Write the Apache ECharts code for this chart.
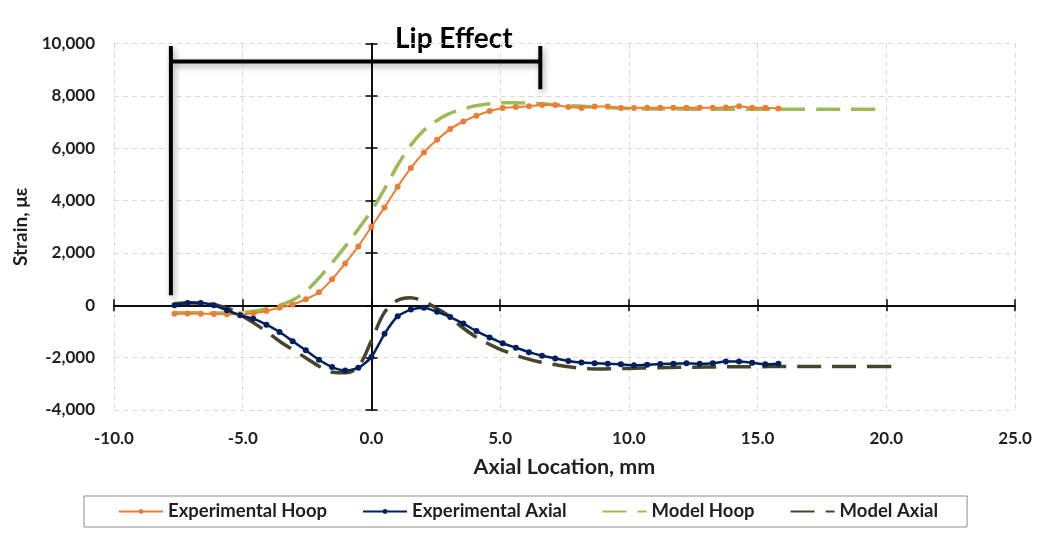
<!DOCTYPE html>
<html>
<head>
<meta charset="utf-8">
<script src="https://cdn.jsdelivr.net/npm/echarts@6/dist/echarts.min.js"></script>
<style>
  html, body { margin: 0; padding: 0; background: #fff; }
  #chart { width: 1045px; height: 538px; }
</style>
</head>
<body>
<div id="chart"></div>
<script>
// Axial positions (mm) of the gauge readings
const expX = [-7.65, -7.14, -6.63, -6.12, -5.61, -5.10, -4.59, -4.08, -3.57, -3.06,
  -2.55, -2.04, -1.53, -1.02, -0.51, 0.00, 0.51, 1.02, 1.53, 2.04,
  2.55, 3.06, 3.57, 4.08, 4.59, 5.10, 5.61, 6.12, 6.63, 7.14,
  7.65, 8.16, 8.67, 9.18, 9.69, 10.20, 10.71, 11.22, 11.73, 12.24,
  12.75, 13.26, 13.77, 14.28, 14.79, 15.30, 15.81];

const expHoop = [-320, -310, -320, -330, -340, -340, -300, -220, -90, 30,
  230, 500, 990, 1600, 2250, 3000, 3740, 4530, 5240, 5840,
  6320, 6730, 7020, 7240, 7420, 7540, 7570, 7600, 7650, 7650,
  7570, 7540, 7590, 7590, 7540, 7540, 7550, 7550, 7550, 7550,
  7550, 7550, 7560, 7600, 7550, 7550, 7520];

const expAxial = [0, 90, 90, 0, -190, -380, -510, -740, -1020, -1370,
  -1720, -2080, -2360, -2490, -2390, -1980, -1090, -420, -165, -90,
  -250, -450, -700, -985, -1230, -1450, -1620, -1790, -1930, -2030,
  -2130, -2190, -2210, -2235, -2255, -2290, -2270, -2240, -2235, -2210,
  -2235, -2210, -2150, -2145, -2195, -2255, -2235];

// Model predictions
const modelHoopX = [-7.65, -7.0, -6.5, -6.0, -5.5, -5.0, -4.5, -4.0, -3.5, -3.0,
  -2.5, -2.0, -1.5, -1.0, -0.5, 0.0, 0.5, 1.0, 1.5, 2.0,
  2.5, 3.0, 3.5, 4.0, 4.5, 5.0, 5.5, 6.0, 6.5, 7.0,
  7.5, 8.0, 8.5, 9.0, 9.5, 10.0, 11.0, 12.0, 13.0, 14.0,
  15.0, 16.0, 17.0, 18.0, 19.0, 20.0];
const modelHoop = [-280, -285, -290, -295, -295, -275, -220, -120, 20, 230,
  580, 1080, 1660, 2270, 2920, 3620, 4430, 5320, 6080, 6650,
  7030, 7310, 7480, 7610, 7690, 7730, 7740, 7730, 7710, 7670,
  7640, 7610, 7580, 7560, 7540, 7520, 7500, 7495, 7490, 7490,
  7490, 7490, 7490, 7490, 7490, 7490];

const modelAxialX = [-7.65, -7.0, -6.5, -6.0, -5.5, -5.0, -4.5, -4.0, -3.5, -3.0,
  -2.5, -2.0, -1.5, -1.0, -0.5, 0.0, 0.5, 1.0, 1.5, 2.0,
  2.5, 3.0, 3.5, 4.0, 4.5, 5.0, 5.5, 6.0, 6.5, 7.0,
  7.5, 8.0, 8.5, 9.0, 9.5, 10.0, 11.0, 12.0, 13.0, 14.0,
  15.0, 16.0, 17.0, 18.0, 19.0, 20.3];
const modelAxial = [60, 100, 70, 0, -150, -420, -720, -1060, -1420, -1730,
  -2040, -2350, -2560, -2580, -2330, -1350, -280, 180, 290, 170,
  -100, -400, -820, -1170, -1450, -1680, -1870, -2030, -2160, -2250,
  -2330, -2390, -2420, -2430, -2420, -2410, -2390, -2370, -2360, -2350,
  -2345, -2340, -2340, -2340, -2340, -2340];

// "Lip Effect" bracket (mm, με)
const lipStart = -7.79;
const lipEnd = 6.56;
const lipBar = 9310;
const lipTop = 9900;
const lipLeftFoot = 380;
const lipRightFoot = 8250;

const seriesNames = ['Experimental Hoop', 'Experimental Axial', 'Model Hoop', 'Model Axial'];
const seriesColors = ['#ED7D31', '#002060', '#9BBB59', '#494429'];

const FONT = 'Lato, "Open Sans", sans-serif';
const TEXT = '#1f1f1f';

const pair = (xs, ys) => xs.map((x, i) => [x, ys[i]]);

const baseX = { type: 'value', min: -10, max: 25, interval: 5, gridIndex: 0 };
const baseY = { type: 'value', min: -4000, max: 10000, interval: 2000, gridIndex: 0 };

const zeroLine = { onZero: true, onZeroAxisIndex: 0, lineStyle: { color: '#000', width: 1.5 } };

const chart = echarts.init(document.getElementById('chart'), null, { renderer: 'canvas' });

chart.setOption({
  backgroundColor: '#ffffff',
  animation: false,
  grid: { left: 114, right: 30, top: 43.5, bottom: 128, containLabel: false },
  xAxis: [
    Object.assign({}, baseX, {
      position: 'bottom',
      axisLine: { show: false, onZero: false },
      axisTick: { show: false },
      axisLabel: {
        margin: 20, fontFamily: FONT, fontSize: 17, fontWeight: 'bold', color: TEXT,
        formatter: v => v.toFixed(1)
      },
      splitLine: { show: true, lineStyle: { color: '#d9d9d9', width: 1, type: [5, 4] } },
      name: 'Axial Location, mm',
      nameLocation: 'middle',
      nameGap: 46,
      nameTextStyle: { fontFamily: FONT, fontSize: 21.5, fontWeight: 'bold', color: TEXT }
    }),
    Object.assign({}, baseX, {
      position: 'bottom',
      axisLine: zeroLine,
      axisTick: { show: true, length: 6, lineStyle: { color: '#000', width: 1.5 } },
      axisLabel: { show: false },
      splitLine: { show: false }
    }),
    Object.assign({}, baseX, {
      position: 'bottom',
      axisLine: zeroLine,
      axisTick: { show: true, inside: true, length: 6, lineStyle: { color: '#000', width: 1.5 } },
      axisLabel: { show: false },
      splitLine: { show: false }
    })
  ],
  yAxis: [
    Object.assign({}, baseY, {
      position: 'left',
      axisLine: { show: false, onZero: false },
      axisTick: { show: false },
      axisLabel: {
        margin: 19, fontFamily: FONT, fontSize: 17, fontWeight: 'bold', color: TEXT,
        formatter: v => v.toLocaleString('en-US')
      },
      splitLine: { show: true, lineStyle: { color: '#d9d9d9', width: 1, type: [5, 4] } },
      name: 'Strain, με',
      nameLocation: 'middle',
      nameGap: 83,
      nameRotate: 90,
      nameTextStyle: { fontFamily: FONT, fontSize: 19, fontWeight: 'bold', color: TEXT }
    }),
    Object.assign({}, baseY, {
      position: 'left',
      axisLine: zeroLine,
      axisTick: { show: true, length: 6, lineStyle: { color: '#000', width: 1.5 } },
      axisLabel: { show: false },
      splitLine: { show: false }
    }),
    Object.assign({}, baseY, {
      position: 'left',
      axisLine: zeroLine,
      axisTick: { show: true, inside: true, length: 6, lineStyle: { color: '#000', width: 1.5 } },
      axisLabel: { show: false },
      splitLine: { show: false }
    })
  ],
  legend: {
    data: [
      { name: seriesNames[0] },
      { name: seriesNames[1] },
      { name: seriesNames[2], itemStyle: { opacity: 0 } },
      { name: seriesNames[3], itemStyle: { opacity: 0 } }
    ],
    left: 84,
    top: 496,
    orient: 'horizontal',
    padding: [6, 29, 6, 34],
    itemGap: 35,
    itemWidth: 44,
    itemHeight: 6,
    borderColor: '#8c8c8c',
    borderWidth: 1,
    textStyle: { fontFamily: FONT, fontSize: 18.5, fontWeight: 'bold', color: TEXT }
  },
  graphic: [{
    type: 'text',
    left: 395,
    top: 25,
    style: { text: 'Lip Effect', font: 'bold 28px ' + FONT, fill: '#000' }
  }],
  series: [
    {
      name: 'lip bracket',
      type: 'line',
      silent: true,
      symbol: 'none',
      connectNulls: false,
      z: 1,
      lineStyle: {
        color: '#000', width: 4,
        shadowColor: 'rgba(0,0,0,0.35)', shadowBlur: 6, shadowOffsetX: 2, shadowOffsetY: 3
      },
      data: [
        [lipStart, lipLeftFoot], [lipStart, lipTop], [lipStart, '-'],
        [lipStart, lipBar], [lipEnd, lipBar], [lipEnd, '-'],
        [lipEnd, lipRightFoot], [lipEnd, lipTop]
      ]
    },
    {
      name: seriesNames[0],
      type: 'line',
      z: 4,
      data: pair(expX, expHoop),
      color: seriesColors[0],
      symbol: 'circle',
      symbolSize: 6,
      showSymbol: true,
      smooth: 0.2,
      lineStyle: { width: 2 },
      itemStyle: { color: seriesColors[0] }
    },
    {
      name: seriesNames[1],
      type: 'line',
      z: 4,
      data: pair(expX, expAxial),
      color: seriesColors[1],
      symbol: 'circle',
      symbolSize: 6,
      showSymbol: true,
      smooth: 0.2,
      lineStyle: { width: 2.5 },
      itemStyle: { color: seriesColors[1] }
    },
    {
      name: seriesNames[2],
      type: 'line',
      z: 3,
      data: pair(modelHoopX, modelHoop),
      color: seriesColors[2],
      symbol: 'none',
      smooth: 0.35,
      lineStyle: { width: 3.5, type: [24, 11] },
      itemStyle: { color: seriesColors[2] }
    },
    {
      name: seriesNames[3],
      type: 'line',
      z: 3,
      data: pair(modelAxialX, modelAxial),
      color: seriesColors[3],
      symbol: 'none',
      smooth: 0.35,
      lineStyle: { width: 3.5, type: [24, 11] },
      itemStyle: { color: seriesColors[3] }
    }
  ]
});
</script>
</body>
</html>
